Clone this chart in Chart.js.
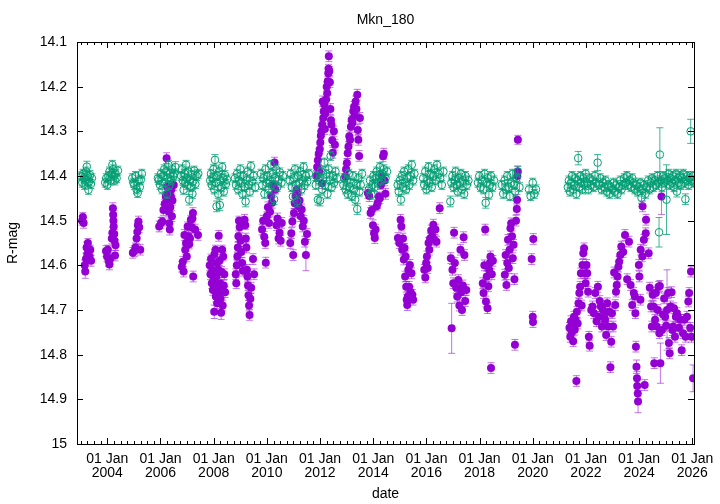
<!DOCTYPE html>
<html>
<head>
<meta charset="utf-8">
<title>Mkn_180</title>
<script src="https://cdn.jsdelivr.net/npm/chart.js@4.4.1/dist/chart.umd.min.js"></script>
<style>
  html, body { margin: 0; padding: 0; background: #fff; }
  canvas { display: block; }
</style>
</head>
<body>
<canvas id="lc" width="720" height="504"></canvas>
<script>
// tick values of the two axes
const yearTicks = [2004, 2006, 2008, 2010, 2012, 2014, 2016, 2018, 2020, 2022, 2024, 2026];
const magTicks = [14.1, 14.2, 14.3, 14.4, 14.5, 14.6, 14.7, 14.8, 14.9, 15];

// Mkn 180, R-band: [decimal year, mag, error]
const mknObs = [
  [2003.05,14.500,0.010],[2003.08,14.492,0.010],[2003.11,14.505,0.012],[2003.15,14.600,0.012],[2003.17,14.614,0.015],
  [2003.20,14.585,0.012],[2003.22,14.560,0.012],[2003.25,14.575,0.012],[2003.27,14.550,0.010],[2003.30,14.568,0.012],
  [2003.33,14.580,0.012],[2003.36,14.565,0.010],[2003.39,14.590,0.012],
  [2003.95,14.568,0.012],[2003.99,14.580,0.012],[2004.02,14.565,0.010],[2004.05,14.590,0.012],[2004.08,14.598,0.012],
  [2004.11,14.585,0.012],[2004.17,14.540,0.012],[2004.19,14.527,0.012],[2004.21,14.472,0.012],[2004.22,14.487,0.010],
  [2004.23,14.500,0.010],[2004.24,14.513,0.012],[2004.26,14.530,0.010],[2004.27,14.545,0.012],[2004.29,14.578,0.012],
  [2004.31,14.555,0.012],
  [2004.96,14.572,0.012],[2005.02,14.568,0.012],[2005.06,14.560,0.010],[2005.10,14.540,0.012],[2005.13,14.525,0.012],
  [2005.15,14.510,0.010],[2005.17,14.502,0.012],[2005.20,14.515,0.012],[2005.24,14.565,0.012],
  [2005.95,14.513,0.012],[2006.02,14.505,0.012],[2006.07,14.502,0.010],[2006.11,14.476,0.012],[2006.16,14.462,0.010],
  [2006.20,14.446,0.010],[2006.23,14.360,0.012],[2006.25,14.424,0.010],[2006.27,14.440,0.010],[2006.29,14.461,0.012],
  [2006.31,14.480,0.010],[2006.33,14.506,0.012],[2006.35,14.520,0.012],[2006.37,14.470,0.010],[2006.39,14.446,0.010],
  [2006.41,14.430,0.010],[2006.43,14.490,0.012],[2006.45,14.455,0.010],[2006.50,14.420,0.012],
  [2006.80,14.603,0.012],[2006.84,14.592,0.012],[2006.87,14.614,0.012],[2006.90,14.532,0.012],[2006.93,14.565,0.010],
  [2006.96,14.550,0.012],[2006.99,14.580,0.012],[2007.02,14.513,0.010],[2007.05,14.535,0.012],[2007.08,14.553,0.010],
  [2007.11,14.540,0.012],[2007.14,14.498,0.010],[2007.17,14.515,0.012],[2007.20,14.495,0.010],[2007.22,14.483,0.012],
  [2007.23,14.625,0.012],[2007.30,14.520,0.012],[2007.41,14.532,0.012],
  [2007.85,14.600,0.012],[2007.88,14.620,0.012],[2007.90,14.585,0.010],[2007.93,14.640,0.012],[2007.95,14.610,0.010],
  [2007.97,14.655,0.012],[2008.00,14.630,0.012],[2008.02,14.704,0.015],[2008.03,14.575,0.010],[2008.05,14.645,0.012],
  [2008.07,14.565,0.010],[2008.08,14.670,0.012],[2008.10,14.625,0.012],[2008.12,14.595,0.010],[2008.13,14.685,0.012],
  [2008.15,14.650,0.012],[2008.17,14.610,0.010],[2008.19,14.534,0.012],[2008.20,14.660,0.012],[2008.22,14.590,0.010],
  [2008.24,14.640,0.012],[2008.26,14.675,0.012],[2008.28,14.706,0.015],[2008.30,14.615,0.012],[2008.32,14.565,0.010],
  [2008.34,14.690,0.012],[2008.36,14.580,0.010],[2008.38,14.645,0.012],[2008.40,14.620,0.012],[2008.43,14.660,0.012],
  [2008.83,14.620,0.012],[2008.85,14.640,0.012],[2008.87,14.600,0.012],[2008.89,14.580,0.010],[2008.91,14.560,0.012],
  [2008.93,14.535,0.012],[2008.95,14.500,0.010],[2008.98,14.515,0.012],[2009.01,14.545,0.012],[2009.04,14.570,0.012],
  [2009.07,14.595,0.012],[2009.10,14.612,0.012],[2009.16,14.498,0.012],[2009.19,14.510,0.010],[2009.21,14.540,0.012],
  [2009.23,14.560,0.012],[2009.25,14.610,0.012],[2009.27,14.625,0.012],[2009.29,14.645,0.012],[2009.31,14.667,0.012],
  [2009.33,14.690,0.012],[2009.35,14.711,0.012],[2009.38,14.675,0.012],[2009.41,14.650,0.012],[2009.48,14.586,0.012],
  [2009.52,14.620,0.012],
  [2009.82,14.520,0.012],[2009.86,14.500,0.012],[2009.90,14.536,0.012],[2009.94,14.550,0.012],[2009.96,14.594,0.012],
  [2010.00,14.490,0.010],[2010.04,14.470,0.012],[2010.08,14.505,0.012],[2010.12,14.480,0.010],[2010.16,14.445,0.010],
  [2010.20,14.460,0.012],[2010.24,14.420,0.010],[2010.29,14.370,0.012],[2010.32,14.430,0.010],[2010.36,14.510,0.012],
  [2010.40,14.495,0.012],[2010.44,14.540,0.012],[2010.48,14.527,0.012],[2010.52,14.545,0.012],[2010.56,14.505,0.012],
  [2010.88,14.550,0.012],[2010.92,14.528,0.012],[2010.96,14.502,0.012],[2010.99,14.577,0.012],[2011.02,14.483,0.010],
  [2011.05,14.461,0.012],[2011.08,14.445,0.010],[2011.12,14.431,0.010],[2011.15,14.440,0.010],[2011.19,14.468,0.012],
  [2011.23,14.455,0.012],[2011.27,14.490,0.012],[2011.31,14.475,0.012],[2011.35,14.513,0.012],[2011.39,14.500,0.012],
  [2011.43,14.547,0.012],[2011.47,14.577,0.035],[2011.51,14.530,0.012],
  [2011.86,14.400,0.012],[2011.89,14.380,0.012],[2011.92,14.365,0.010],[2011.95,14.350,0.012],[2011.97,14.390,0.012],
  [2011.99,14.340,0.010],[2012.01,14.325,0.012],[2012.03,14.310,0.010],[2012.05,14.300,0.012],[2012.07,14.416,0.012],
  [2012.08,14.285,0.010],[2012.10,14.233,0.012],[2012.12,14.270,0.010],[2012.14,14.255,0.012],[2012.16,14.240,0.010],
  [2012.18,14.295,0.012],[2012.20,14.260,0.010],[2012.23,14.229,0.012],[2012.25,14.200,0.010],[2012.27,14.215,0.012],
  [2012.29,14.188,0.010],[2012.31,14.170,0.012],[2012.32,14.160,0.010],[2012.33,14.132,0.012],[2012.35,14.165,0.010],
  [2012.37,14.190,0.012],[2012.39,14.250,0.012],[2012.41,14.275,0.010],[2012.43,14.285,0.012],[2012.46,14.320,0.012],
  [2012.48,14.348,0.012],[2012.52,14.300,0.012],[2012.56,14.330,0.012],
  [2012.95,14.401,0.012],[2012.98,14.385,0.012],[2013.01,14.371,0.010],[2013.04,14.349,0.012],[2013.07,14.334,0.010],
  [2013.10,14.311,0.012],[2013.13,14.319,0.010],[2013.16,14.290,0.012],[2013.19,14.274,0.010],[2013.22,14.281,0.012],
  [2013.25,14.255,0.010],[2013.28,14.245,0.012],[2013.31,14.265,0.010],[2013.34,14.233,0.012],[2013.37,14.250,0.010],
  [2013.40,14.218,0.012],[2013.42,14.297,0.012],[2013.44,14.319,0.012],[2013.47,14.355,0.012],[2013.50,14.270,0.012],
  [2013.80,14.438,0.012],[2013.85,14.445,0.012],[2013.90,14.483,0.012],[2013.95,14.476,0.010],[2013.99,14.510,0.012],
  [2014.03,14.528,0.012],[2014.06,14.539,0.012],[2014.09,14.520,0.012],[2014.13,14.468,0.010],[2014.17,14.460,0.012],
  [2014.21,14.446,0.010],[2014.25,14.450,0.012],[2014.29,14.420,0.010],[2014.33,14.401,0.012],[2014.37,14.356,0.012],
  [2014.40,14.350,0.012],[2014.43,14.410,0.012],[2014.46,14.440,0.012],
  [2014.93,14.539,0.012],[2014.98,14.550,0.012],[2015.03,14.498,0.012],[2015.06,14.513,0.010],[2015.09,14.565,0.012],
  [2015.12,14.540,0.012],[2015.15,14.587,0.012],[2015.18,14.561,0.010],[2015.20,14.625,0.012],[2015.22,14.580,0.012],
  [2015.24,14.648,0.012],[2015.26,14.677,0.012],[2015.28,14.689,0.012],[2015.30,14.670,0.012],[2015.32,14.610,0.012],
  [2015.35,14.648,0.012],[2015.38,14.599,0.012],[2015.41,14.660,0.012],[2015.44,14.618,0.012],[2015.47,14.666,0.012],
  [2015.50,14.677,0.012],
  [2015.92,14.610,0.012],[2015.96,14.627,0.012],[2015.99,14.595,0.012],[2016.02,14.580,0.012],[2016.05,14.606,0.012],
  [2016.08,14.550,0.012],[2016.11,14.565,0.012],[2016.14,14.540,0.012],[2016.18,14.522,0.012],[2016.22,14.535,0.012],
  [2016.26,14.509,0.012],[2016.30,14.543,0.012],[2016.34,14.520,0.012],[2016.38,14.547,0.012],[2016.50,14.472,0.012],
  [2016.92,14.584,0.012],[2016.95,14.741,0.056],[2016.98,14.610,0.012],[2017.01,14.640,0.012],[2017.04,14.527,0.012],
  [2017.07,14.595,0.012],[2017.12,14.650,0.012],[2017.16,14.670,0.012],[2017.20,14.633,0.012],[2017.24,14.690,0.012],
  [2017.28,14.565,0.012],[2017.31,14.660,0.012],[2017.34,14.700,0.012],[2017.37,14.645,0.012],[2017.40,14.537,0.012],
  [2017.43,14.577,0.012],[2017.46,14.680,0.012],[2017.50,14.655,0.012],
  [2018.12,14.640,0.012],[2018.15,14.662,0.012],[2018.18,14.600,0.012],[2018.21,14.520,0.012],[2018.24,14.681,0.012],
  [2018.27,14.625,0.012],[2018.30,14.696,0.012],[2018.33,14.647,0.012],[2018.36,14.610,0.012],[2018.39,14.595,0.012],
  [2018.41,14.580,0.012],[2018.43,14.830,0.012],[2018.46,14.620,0.012],[2018.50,14.590,0.012],
  [2018.95,14.621,0.012],[2018.98,14.577,0.012],[2019.01,14.644,0.012],[2019.04,14.595,0.012],[2019.07,14.543,0.012],
  [2019.10,14.606,0.012],[2019.13,14.565,0.012],[2019.16,14.517,0.012],[2019.19,14.506,0.012],[2019.22,14.535,0.012],
  [2019.25,14.584,0.012],[2019.28,14.554,0.012],[2019.31,14.631,0.012],[2019.33,14.778,0.012],[2019.37,14.500,0.012],
  [2019.40,14.474,0.012],[2019.41,14.453,0.012],[2019.42,14.400,0.012],[2019.43,14.390,0.012],[2019.44,14.319,0.010],
  [2019.96,14.586,0.012],[2020.00,14.715,0.012],[2020.01,14.727,0.012],[2020.02,14.541,0.012],
  [2021.38,14.740,0.012],[2021.41,14.760,0.012],[2021.44,14.725,0.012],[2021.47,14.750,0.012],[2021.50,14.737,0.012],
  [2021.52,14.770,0.012],[2021.55,14.715,0.012],[2021.58,14.744,0.012],[2021.61,14.722,0.012],[2021.64,14.859,0.012],
  [2021.66,14.704,0.012],[2021.69,14.730,0.012],[2021.72,14.685,0.012],[2021.75,14.662,0.012],[2021.78,14.648,0.012],
  [2021.81,14.618,0.012],[2021.84,14.690,0.012],[2021.87,14.599,0.012],[2021.90,14.573,0.012],[2021.93,14.562,0.012],
  [2021.96,14.618,0.012],[2021.99,14.640,0.012],[2022.02,14.599,0.012],
  [2022.05,14.618,0.012],[2022.08,14.659,0.012],[2022.11,14.760,0.012],[2022.14,14.780,0.012],[2022.20,14.700,0.012],
  [2022.25,14.692,0.012],[2022.30,14.707,0.012],[2022.35,14.662,0.012],[2022.40,14.725,0.012],[2022.45,14.648,0.012],
  [2022.48,14.715,0.012],[2022.52,14.680,0.012],[2022.56,14.692,0.012],[2022.60,14.737,0.012],[2022.64,14.700,0.012],
  [2022.68,14.715,0.012],[2022.72,14.722,0.012],[2022.76,14.756,0.012],[2022.80,14.685,0.012],[2022.84,14.737,0.012],
  [2022.88,14.704,0.012],[2022.92,14.828,0.012],[2022.95,14.771,0.012],[2022.98,14.707,0.012],[2023.02,14.737,0.012],
  [2023.06,14.616,0.012],[2023.10,14.689,0.012],[2023.13,14.659,0.012],[2023.16,14.644,0.012],[2023.19,14.625,0.012],
  [2023.22,14.603,0.012],[2023.25,14.592,0.012],[2023.29,14.577,0.012],[2023.33,14.558,0.012],[2023.40,14.570,0.012],
  [2023.47,14.532,0.012],[2023.55,14.631,0.012],[2023.62,14.547,0.012],[2023.68,14.644,0.012],[2023.74,14.689,0.012],
  [2023.80,14.662,0.012],[2023.84,14.670,0.012],[2023.86,14.707,0.012],[2023.88,14.782,0.012],[2023.90,14.827,0.015],
  [2023.92,14.853,0.015],[2023.93,14.870,0.015],[2023.95,14.887,0.015],[2023.96,14.905,0.025],[2023.99,14.599,0.012],
  [2024.01,14.625,0.012],[2024.05,14.677,0.012],[2024.06,14.565,0.012],[2024.12,14.580,0.012],[2024.13,14.468,0.012],
  [2024.18,14.543,0.012],[2024.21,14.868,0.012],[2024.25,14.528,0.012],[2024.26,14.498,0.012],[2024.36,14.573,0.012],
  [2024.40,14.650,0.012],[2024.45,14.692,0.012],[2024.48,14.737,0.012],[2024.51,14.666,0.012],[2024.54,14.692,0.012],
  [2024.57,14.819,0.012],[2024.60,14.722,0.012],[2024.63,14.662,0.012],[2024.66,14.737,0.012],[2024.70,14.700,0.012],
  [2024.73,14.648,0.012],[2024.76,14.752,0.012],[2024.78,14.646,0.012],[2024.80,14.819,0.045],[2024.84,14.446,0.040],
  [2024.86,14.745,0.012],[2024.90,14.710,0.012],[2024.94,14.674,0.012],[2024.98,14.715,0.012],[2025.02,14.735,0.012],
  [2025.05,14.700,0.090],[2025.09,14.662,0.012],[2025.12,14.774,0.012],[2025.15,14.797,0.012],[2025.18,14.692,0.012],
  [2025.22,14.660,0.012],[2025.25,14.745,0.012],[2025.28,14.737,0.012],[2025.31,14.696,0.012],[2025.35,14.760,0.012],
  [2025.38,14.715,0.012],[2025.42,14.707,0.012],[2025.46,14.715,0.012],[2025.50,14.740,0.012],[2025.55,14.722,0.012],
  [2025.60,14.790,0.012],[2025.65,14.752,0.012],[2025.70,14.722,0.012],[2025.75,14.760,0.012],[2025.80,14.715,0.012],
  [2025.85,14.681,0.012],[2025.88,14.662,0.012],[2025.92,14.740,0.012],[2025.95,14.614,0.012],[2025.97,14.760,0.012],
  [2026.03,14.853,0.030]
];

// comparison star: [decimal year, mag, error]
const compObs = [
  [2003.02,14.401,0.010],[2003.06,14.415,0.010],[2003.09,14.395,0.010],[2003.12,14.405,0.010],[2003.15,14.420,0.010],
  [2003.18,14.410,0.010],[2003.20,14.390,0.010],[2003.23,14.379,0.012],[2003.26,14.400,0.010],[2003.29,14.431,0.010],
  [2003.32,14.412,0.010],[2003.35,14.398,0.010],[2003.38,14.418,0.010],[2003.42,14.405,0.010],
  [2003.92,14.415,0.010],[2003.96,14.405,0.010],[2004.00,14.420,0.010],[2004.04,14.400,0.010],[2004.08,14.390,0.010],
  [2004.12,14.410,0.010],[2004.16,14.395,0.010],[2004.19,14.375,0.010],[2004.22,14.385,0.010],[2004.25,14.400,0.010],
  [2004.28,14.410,0.010],[2004.31,14.395,0.010],[2004.35,14.405,0.010],[2004.40,14.388,0.010],
  [2004.94,14.405,0.010],[2004.98,14.415,0.010],[2005.02,14.420,0.010],[2005.06,14.400,0.010],[2005.10,14.430,0.010],
  [2005.14,14.438,0.010],[2005.18,14.410,0.010],[2005.22,14.425,0.010],[2005.26,14.408,0.010],[2005.30,14.395,0.010],
  [2005.90,14.405,0.010],[2005.94,14.409,0.010],[2005.98,14.420,0.010],[2006.02,14.395,0.010],[2006.06,14.430,0.010],
  [2006.10,14.400,0.010],[2006.14,14.385,0.010],[2006.18,14.415,0.010],[2006.21,14.390,0.010],[2006.24,14.440,0.010],
  [2006.27,14.405,0.010],[2006.30,14.375,0.010],[2006.33,14.420,0.010],[2006.36,14.395,0.010],[2006.40,14.410,0.010],
  [2006.44,14.385,0.010],[2006.48,14.400,0.010],[2006.52,14.394,0.010],[2006.56,14.380,0.012],
  [2006.78,14.400,0.010],[2006.81,14.385,0.010],[2006.84,14.410,0.010],[2006.87,14.431,0.010],[2006.90,14.395,0.010],
  [2006.93,14.415,0.010],[2006.96,14.375,0.010],[2006.99,14.405,0.010],[2007.02,14.420,0.010],[2007.05,14.390,0.010],
  [2007.08,14.453,0.012],[2007.11,14.410,0.010],[2007.14,14.425,0.010],[2007.17,14.398,0.010],[2007.20,14.440,0.010],
  [2007.23,14.412,0.010],[2007.27,14.388,0.010],[2007.31,14.418,0.010],[2007.36,14.400,0.010],[2007.42,14.395,0.010],
  [2007.87,14.410,0.010],[2007.90,14.395,0.010],[2007.93,14.420,0.010],[2007.96,14.405,0.010],[2007.99,14.385,0.010],
  [2008.02,14.430,0.010],[2008.05,14.364,0.012],[2008.08,14.415,0.010],[2008.11,14.468,0.012],[2008.14,14.400,0.010],
  [2008.17,14.440,0.010],[2008.20,14.390,0.010],[2008.23,14.465,0.012],[2008.26,14.412,0.010],[2008.29,14.425,0.010],
  [2008.32,14.380,0.010],[2008.35,14.405,0.010],[2008.38,14.435,0.010],[2008.42,14.398,0.010],[2008.46,14.418,0.010],
  [2008.50,14.408,0.010],
  [2008.80,14.405,0.010],[2008.84,14.420,0.010],[2008.88,14.395,0.010],[2008.92,14.430,0.010],[2008.96,14.410,0.010],
  [2009.00,14.385,0.010],[2009.04,14.415,0.010],[2009.08,14.440,0.010],[2009.12,14.400,0.010],[2009.16,14.425,0.010],
  [2009.20,14.457,0.012],[2009.24,14.410,0.010],[2009.28,14.390,0.010],[2009.32,14.420,0.010],[2009.36,14.435,0.010],
  [2009.40,14.378,0.010],[2009.45,14.412,0.010],[2009.50,14.400,0.010],[2009.56,14.425,0.010],
  [2009.78,14.395,0.010],[2009.83,14.420,0.010],[2009.87,14.405,0.010],[2009.91,14.440,0.010],[2009.95,14.385,0.010],
  [2009.99,14.415,0.010],[2010.03,14.400,0.010],[2010.07,14.430,0.010],[2010.11,14.410,0.010],[2010.15,14.375,0.010],
  [2010.19,14.420,0.010],[2010.23,14.395,0.010],[2010.27,14.452,0.012],[2010.31,14.405,0.010],[2010.35,14.385,0.010],
  [2010.39,14.425,0.010],[2010.44,14.410,0.010],[2010.49,14.392,0.010],[2010.55,14.415,0.010],[2010.60,14.400,0.010],
  [2010.86,14.410,0.010],[2010.90,14.395,0.010],[2010.94,14.425,0.010],[2010.98,14.446,0.012],[2011.02,14.405,0.010],
  [2011.06,14.385,0.010],[2011.10,14.420,0.010],[2011.14,14.457,0.012],[2011.18,14.400,0.010],[2011.22,14.415,0.010],
  [2011.26,14.390,0.010],[2011.30,14.430,0.010],[2011.34,14.410,0.010],[2011.38,14.380,0.010],[2011.42,14.420,0.010],
  [2011.47,14.400,0.010],[2011.52,14.412,0.010],[2011.58,14.395,0.010],
  [2011.84,14.420,0.010],[2011.88,14.400,0.010],[2011.92,14.453,0.012],[2011.96,14.410,0.010],[2012.00,14.455,0.012],
  [2012.04,14.390,0.010],[2012.08,14.430,0.010],[2012.12,14.405,0.010],[2012.16,14.370,0.010],[2012.20,14.420,0.010],
  [2012.24,14.395,0.010],[2012.28,14.440,0.010],[2012.32,14.385,0.010],[2012.36,14.410,0.010],[2012.40,14.355,0.010],
  [2012.44,14.425,0.010],[2012.48,14.400,0.010],[2012.53,14.415,0.010],[2012.58,14.390,0.010],[2012.64,14.405,0.010],
  [2012.88,14.420,0.010],[2012.92,14.405,0.010],[2012.96,14.430,0.010],[2013.00,14.410,0.010],[2013.04,14.440,0.010],
  [2013.08,14.395,0.010],[2013.12,14.425,0.010],[2013.16,14.415,0.010],[2013.20,14.445,0.010],[2013.24,14.400,0.010],
  [2013.28,14.430,0.010],[2013.32,14.453,0.012],[2013.36,14.418,0.010],[2013.40,14.474,0.012],[2013.44,14.405,0.010],
  [2013.48,14.435,0.010],[2013.53,14.420,0.010],[2013.58,14.395,0.010],
  [2013.84,14.430,0.010],[2013.88,14.410,0.010],[2013.93,14.442,0.010],[2013.97,14.420,0.010],[2014.01,14.400,0.010],
  [2014.05,14.425,0.010],[2014.09,14.405,0.010],[2014.13,14.390,0.010],[2014.17,14.415,0.010],[2014.21,14.400,0.010],
  [2014.25,14.380,0.010],[2014.30,14.410,0.010],[2014.35,14.395,0.010],[2014.40,14.385,0.010],[2014.46,14.405,0.010],
  [2014.52,14.390,0.010],
  [2014.92,14.420,0.010],[2014.96,14.435,0.010],[2015.00,14.410,0.010],[2015.04,14.453,0.012],[2015.08,14.400,0.010],
  [2015.12,14.425,0.010],[2015.16,14.390,0.010],[2015.20,14.415,0.010],[2015.24,14.430,0.010],[2015.28,14.405,0.010],
  [2015.32,14.385,0.010],[2015.36,14.420,0.010],[2015.40,14.400,0.010],[2015.45,14.375,0.010],[2015.50,14.410,0.010],
  [2015.55,14.395,0.010],
  [2015.88,14.405,0.010],[2015.92,14.420,0.010],[2015.96,14.390,0.010],[2016.00,14.430,0.010],[2016.04,14.410,0.010],
  [2016.08,14.380,0.010],[2016.12,14.415,0.010],[2016.16,14.395,0.010],[2016.20,14.425,0.010],[2016.25,14.400,0.010],
  [2016.30,14.385,0.010],[2016.35,14.410,0.010],[2016.40,14.375,0.010],[2016.46,14.395,0.010],[2016.52,14.405,0.010],
  [2016.58,14.420,0.010],[2016.64,14.390,0.010],
  [2016.90,14.457,0.012],[2016.94,14.415,0.010],[2016.98,14.400,0.010],[2017.02,14.425,0.010],[2017.06,14.410,0.010],
  [2017.10,14.390,0.010],[2017.14,14.420,0.010],[2017.18,14.435,0.010],[2017.22,14.405,0.010],[2017.26,14.415,0.010],
  [2017.30,14.395,0.010],[2017.34,14.430,0.010],[2017.38,14.410,0.010],[2017.42,14.440,0.010],[2017.47,14.400,0.010],
  [2017.52,14.420,0.010],[2017.58,14.410,0.010],
  [2017.94,14.415,0.010],[2017.99,14.400,0.010],[2018.04,14.425,0.010],[2018.09,14.410,0.010],[2018.14,14.430,0.010],
  [2018.19,14.395,0.010],[2018.23,14.460,0.012],[2018.27,14.415,0.010],[2018.31,14.405,0.010],[2018.35,14.442,0.010],
  [2018.39,14.420,0.010],[2018.43,14.400,0.010],[2018.48,14.425,0.010],[2018.54,14.410,0.010],
  [2018.84,14.420,0.010],[2018.89,14.440,0.010],[2018.94,14.410,0.010],[2018.99,14.430,0.010],[2019.04,14.400,0.010],
  [2019.09,14.425,0.010],[2019.14,14.445,0.010],[2019.19,14.415,0.010],[2019.24,14.395,0.010],[2019.29,14.420,0.010],
  [2019.34,14.435,0.010],[2019.39,14.405,0.010],[2019.44,14.390,0.012],[2019.50,14.425,0.010],
  [2019.86,14.430,0.010],[2019.92,14.445,0.010],[2020.00,14.415,0.010],[2020.06,14.440,0.010],[2020.12,14.430,0.010],
  [2021.32,14.425,0.010],[2021.36,14.410,0.010],[2021.40,14.435,0.010],[2021.44,14.415,0.010],[2021.48,14.400,0.010],
  [2021.52,14.430,0.010],[2021.56,14.420,0.010],[2021.60,14.405,0.010],[2021.64,14.440,0.010],[2021.68,14.410,0.010],
  [2021.71,14.360,0.015],[2021.75,14.425,0.010],[2021.79,14.400,0.010],[2021.83,14.415,0.010],[2021.87,14.430,0.010],
  [2021.91,14.405,0.010],[2021.95,14.420,0.010],[2021.99,14.395,0.010],[2022.04,14.415,0.010],[2022.09,14.430,0.010],
  [2022.14,14.405,0.010],[2022.19,14.420,0.010],[2022.24,14.410,0.010],[2022.29,14.425,0.010],[2022.34,14.400,0.010],
  [2022.39,14.415,0.010],[2022.44,14.370,0.018],[2022.49,14.420,0.010],[2022.54,14.405,0.010],[2022.59,14.430,0.010],
  [2022.64,14.415,0.010],[2022.69,14.425,0.010],[2022.74,14.410,0.010],[2022.79,14.435,0.010],[2022.84,14.420,0.010],
  [2022.89,14.440,0.010],[2022.94,14.425,0.010],[2022.99,14.430,0.010],[2023.04,14.415,0.010],[2023.09,14.435,0.010],
  [2023.14,14.420,0.010],[2023.19,14.440,0.010],[2023.24,14.425,0.010],[2023.29,14.410,0.010],[2023.34,14.430,0.010],
  [2023.39,14.420,0.010],[2023.44,14.405,0.010],[2023.49,14.415,0.010],[2023.54,14.400,0.010],[2023.59,14.420,0.010],
  [2023.64,14.410,0.010],[2023.69,14.425,0.010],[2023.74,14.405,0.010],[2023.79,14.415,0.010],[2023.84,14.430,0.010],
  [2023.89,14.420,0.010],[2023.94,14.435,0.010],[2023.99,14.425,0.010],[2024.04,14.415,0.010],[2024.09,14.449,0.012],
  [2024.14,14.430,0.010],[2024.19,14.420,0.010],[2024.24,14.440,0.010],[2024.29,14.425,0.010],[2024.34,14.410,0.010],
  [2024.39,14.430,0.010],[2024.44,14.415,0.010],[2024.49,14.405,0.010],[2024.54,14.425,0.010],[2024.59,14.410,0.010],
  [2024.64,14.420,0.010],[2024.69,14.400,0.010],[2024.73,14.415,0.010],[2024.75,14.526,0.033],[2024.78,14.352,0.060],
  [2024.82,14.410,0.010],[2024.86,14.425,0.010],[2024.90,14.400,0.010],[2024.94,14.415,0.010],[2024.98,14.405,0.010],
  [2025.03,14.453,0.078],[2025.07,14.410,0.010],[2025.11,14.395,0.010],[2025.15,14.420,0.010],[2025.19,14.405,0.010],
  [2025.23,14.415,0.010],[2025.27,14.400,0.010],[2025.31,14.425,0.010],[2025.35,14.410,0.010],[2025.39,14.395,0.010],
  [2025.42,14.435,0.012],[2025.46,14.405,0.010],[2025.50,14.415,0.010],[2025.54,14.400,0.010],[2025.58,14.420,0.010],
  [2025.62,14.405,0.010],[2025.66,14.395,0.010],[2025.70,14.415,0.010],[2025.74,14.452,0.012],[2025.78,14.410,0.010],
  [2025.82,14.400,0.010],[2025.86,14.420,0.010],[2025.90,14.405,0.010],[2025.94,14.300,0.027],[2025.98,14.410,0.010],
  [2026.02,14.400,0.010],[2026.05,14.415,0.010]
];

const toPoints = rows => rows.map(([x, y, err]) => ({x, y, err}));
const FONT = 'Liberation Sans';

// vertical error bars with caps, drawn under each dataset's own markers
const errorBars = {
  id: 'errorBars',
  beforeDatasetDraw(chart, args) {
    const ds = chart.data.datasets[args.index];
    const {ctx, chartArea: a, scales: {x, y}} = chart;
    const cap = 3.5;
    ctx.save();
    ctx.beginPath();
    ctx.rect(a.left, a.top, a.right - a.left, a.bottom - a.top);
    ctx.clip();
    ctx.strokeStyle = ds.errorColor;
    ctx.lineWidth = 1;
    ctx.beginPath();
    ds.data.forEach(p => {
      const px = x.getPixelForValue(p.x);
      const top = y.getPixelForValue(p.y - p.err);
      const bot = y.getPixelForValue(p.y + p.err);
      ctx.moveTo(px, top); ctx.lineTo(px, bot);
      ctx.moveTo(px - cap, top); ctx.lineTo(px + cap, top);
      ctx.moveTo(px - cap, bot); ctx.lineTo(px + cap, bot);
    });
    ctx.stroke();
    ctx.restore();
  }
};

// gnuplot style frame: border, inward ticks on all sides, title
const frame = {
  id: 'frame',
  afterDatasetsDraw(chart) {
    const {ctx, chartArea: a, scales: {x, y}} = chart;
    ctx.save();
    ctx.strokeStyle = '#000';
    ctx.lineWidth = 1;
    ctx.beginPath();
    for (let q = Math.ceil(x.min * 4); q <= Math.floor(x.max * 4); q++) {
      const v = q / 4;
      const px = Math.round(x.getPixelForValue(v)) + 0.5;
      const len = yearTicks.includes(v) ? 6 : 3;
      ctx.moveTo(px, a.bottom); ctx.lineTo(px, a.bottom - len);
      ctx.moveTo(px, a.top); ctx.lineTo(px, a.top + len);
    }
    magTicks.forEach(v => {
      const py = Math.round(y.getPixelForValue(v)) + 0.5;
      ctx.moveTo(a.left, py); ctx.lineTo(a.left + 6, py);
      ctx.moveTo(a.right, py); ctx.lineTo(a.right - 6, py);
    });
    ctx.stroke();
    ctx.strokeRect(Math.round(a.left) + 0.5, Math.round(a.top) + 0.5,
      Math.round(a.right - a.left), Math.round(a.bottom - a.top));
    ctx.fillStyle = '#000';
    ctx.font = '14px "' + FONT + '"';
    ctx.textAlign = 'center';
    ctx.textBaseline = 'middle';
    ctx.fillText('Mkn_180', (a.left + a.right) / 2, 20);
    ctx.restore();
  }
};

Chart.defaults.color = '#000';
Chart.defaults.font.family = FONT;
Chart.defaults.font.size = 14;

new Chart(document.getElementById('lc'), {
  type: 'scatter',
  data: {
    datasets: [
      {
        label: 'comparison',
        data: toPoints(compObs),
        order: 0,
        pointStyle: 'circle',
        pointRadius: 3.8,
        borderWidth: 1,
        borderColor: '#009e73',
        backgroundColor: 'rgba(0,0,0,0)',
        errorColor: 'rgba(0,158,115,0.75)'
      },
      {
        label: 'Mkn_180',
        data: toPoints(mknObs),
        order: 1,
        pointStyle: 'circle',
        pointRadius: 4,
        borderWidth: 0,
        borderColor: '#9400d3',
        backgroundColor: '#9400d3',
        errorColor: 'rgba(148,0,211,0.55)'
      }
    ]
  },
  options: {
    responsive: false,
    animation: false,
    events: [],
    layout: { padding: { top: 42, right: 26, bottom: 0, left: 0 } },
    plugins: {
      legend: { display: false },
      tooltip: { enabled: false },
      title: { display: false }
    },
    scales: {
      x: {
        type: 'linear',
        min: 2002.86,
        max: 2026.064,
        grid: { display: false, drawTicks: false },
        border: { display: false },
        afterBuildTicks: s => { s.ticks = yearTicks.map(v => ({value: v})); },
        afterFit: s => { s.height = 60; s.paddingLeft = 0; s.paddingRight = 0; },
        ticks: {
          autoSkip: false,
          maxRotation: 0,
          minRotation: 0,
          padding: 8,
          font: { size: 14, lineHeight: 1.0 },
          callback: v => ['01 Jan', String(v)]
        },
        title: { display: true, text: 'date', padding: { top: 0, bottom: 1 } }
      },
      y: {
        type: 'linear',
        reverse: true,
        min: 14.1,
        max: 15,
        grid: { display: false, drawTicks: false },
        border: { display: false },
        afterBuildTicks: s => { s.ticks = magTicks.map(v => ({value: v})); },
        afterFit: s => { s.width = 77; s.paddingTop = 0; s.paddingBottom = 0; },
        ticks: {
          padding: 10,
          callback: v => String(Number(v.toFixed(1)))
        },
        title: { display: true, text: 'R-mag', padding: { top: 5, bottom: 0 } }
      }
    }
  },
  plugins: [errorBars, frame]
});
</script>
</body>
</html>
